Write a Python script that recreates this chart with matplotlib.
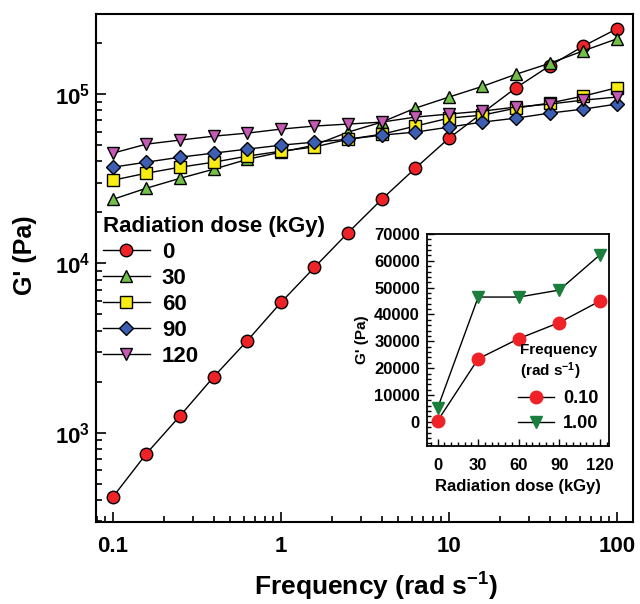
import numpy as np
import matplotlib
matplotlib.use("Agg")
import matplotlib.pyplot as plt
from matplotlib.ticker import FixedLocator, FuncFormatter, LogLocator, MultipleLocator, NullFormatter

plt.rcParams["font.family"] = ["Liberation Sans", "DejaVu Sans"]
plt.rcParams["font.weight"] = "bold"
plt.rcParams["mathtext.fontset"] = "custom"
plt.rcParams["mathtext.rm"] = "Liberation Sans:bold"
plt.rcParams["mathtext.bf"] = "Liberation Sans:bold"
plt.rcParams["mathtext.it"] = "Liberation Sans:bold"

# storage modulus vs angular frequency for each dose
freq = [0.1, 0.158, 0.251, 0.398, 0.631, 1.0, 1.58, 2.51, 3.98, 6.31,
        10, 15.8, 25.1, 39.8, 63.1, 100]
g_0 = [418, 752, 1260, 2140, 3500, 5880, 9460, 15200, 23900, 36500,
       54900, 77300, 109000, 147000, 192000, 243000]
g_30 = [23900, 27800, 31800, 36000, 41200, 45400, 49900, 59600, 68300, 82600,
        96000, 111000, 131000, 152000, 180000, 212000]
g_60 = [31000, 34100, 37000, 39600, 43000, 46000, 48700, 54100, 57900, 64700,
        72100, 75100, 82600, 88500, 97300, 109000]
g_90 = [37000, 39600, 42400, 44800, 47300, 49900, 52000, 54100, 57200, 59600,
        63800, 68300, 72100, 77200, 81500, 87300]
g_120 = [44800, 50600, 53500, 56400, 58800, 62100, 64700, 66500, 68300, 73100,
         76200, 79300, 83800, 87300, 92100, 96000]
dose_labels = ["0", "30", "60", "90", "120"]

# inset: G' against dose at two fixed frequencies
dose = [0, 30, 60, 90, 120]
g_f010 = [400, 23500, 31000, 37000, 45000]
g_f100 = [5200, 46500, 46500, 49100, 62200]

fig = plt.figure(figsize=(6.4, 6.04), dpi=100)
ax = fig.add_axes([0.150, 0.1358, 0.839, 0.8410])

styles = [
    dict(marker="o", mfc="#ee2227", ms=9.0),
    dict(marker="^", mfc="#72c04a", ms=9.0),
    dict(marker="s", mfc="#f7ec13", ms=8.0),
    dict(marker="D", mfc="#3c5fb4", ms=7.5),
    dict(marker="v", mfc="#c55ab4", ms=9.0),
]
series = [g_0, g_30, g_60, g_90, g_120]
for vals, lab, st in zip(series, dose_labels, styles):
    ax.plot(freq, vals, color="black", lw=1.0, mec="black", mew=1.0,
            label=lab, **st)

ax.set_xscale("log")
ax.set_yscale("log")
ax.set_xlim(0.0792, 124.5)
ax.set_ylim(297, 2.97e5)

ax.xaxis.set_major_locator(FixedLocator([0.1, 1, 10, 100]))
ax.xaxis.set_major_formatter(FuncFormatter(lambda v, p: "%g" % v))
ax.xaxis.set_minor_locator(LogLocator(base=10, subs=np.arange(2, 10)))
ax.xaxis.set_minor_formatter(NullFormatter())
ax.yaxis.set_major_locator(FixedLocator([1e3, 1e4, 1e5]))
ax.yaxis.set_major_formatter(FuncFormatter(lambda v, p: r"$10^{%d}$" % round(np.log10(v))))
ax.yaxis.set_minor_locator(LogLocator(base=10, subs=np.arange(2, 10)))
ax.yaxis.set_minor_formatter(NullFormatter())

ax.tick_params(which="both", direction="in", top=False, right=False,
               labelsize=16, width=1.2)
ax.tick_params(axis="x", pad=10)
ax.tick_params(axis="y", pad=4)
ax.tick_params(which="major", length=7)
ax.tick_params(which="minor", length=4)
for s in ax.spines.values():
    s.set_linewidth(1.5)

ax.set_xlabel(r"Frequency (rad s$^{-1}$)", fontsize=19, fontweight="bold")
ax.xaxis.set_label_coords(0.521, -0.096)
ax.set_ylabel("G' (Pa)", fontsize=18, fontweight="bold")
ax.yaxis.set_label_coords(-0.110, 0.526)

leg = ax.legend(title="Radiation dose (kGy)", loc="upper left",
                bbox_to_anchor=(-0.012, 0.628), frameon=False,
                fontsize=16, title_fontsize=16, handlelength=2.1,
                handletextpad=0.55, labelspacing=0.22, borderaxespad=0.2,
                alignment="left")

# inset axes
ins = fig.add_axes([0.667, 0.2616, 0.285, 0.351])
ins.plot(dose, g_f010, color="black", lw=1.0, marker="o", ms=9,
         mfc="#ee2227", mec="#ee2227", label="0.10")
ins.plot(dose, g_f100, color="black", lw=1.0, marker="v", ms=9,
         mfc="#1a7f3c", mec="#1a7f3c", label="1.00")
ins.set_xlim(-8, 127)
ins.set_ylim(-9000, 70000)
ins.xaxis.set_major_locator(FixedLocator(dose))
ins.xaxis.set_minor_locator(MultipleLocator(5))
ins.yaxis.set_major_locator(MultipleLocator(10000))
ins.yaxis.set_minor_locator(MultipleLocator(2000))
ins.set_yticks(range(0, 70001, 10000))
ins.tick_params(which="both", direction="in", top=False, right=False,
                labelsize=12, width=1.0)
ins.tick_params(axis="x", pad=9)
ins.tick_params(axis="y", pad=5)
ins.tick_params(which="major", length=5)
ins.tick_params(which="minor", length=3)
for s in ins.spines.values():
    s.set_linewidth(1.3)
ins.set_xlabel("Radiation dose (kGy)", fontsize=12, fontweight="bold", labelpad=4)
ins.set_ylabel("G' (Pa)", fontsize=11, fontweight="bold", labelpad=4)
ins.legend(title="Frequency\n" + r"(rad s$^{-1}$)", loc="lower right",
           bbox_to_anchor=(1.0, 0.015), frameon=False, fontsize=13,
           title_fontsize=11, handlelength=2.0, handletextpad=0.5,
           labelspacing=0.45, borderaxespad=0.2)

fig.savefig("out.png", dpi=100)
